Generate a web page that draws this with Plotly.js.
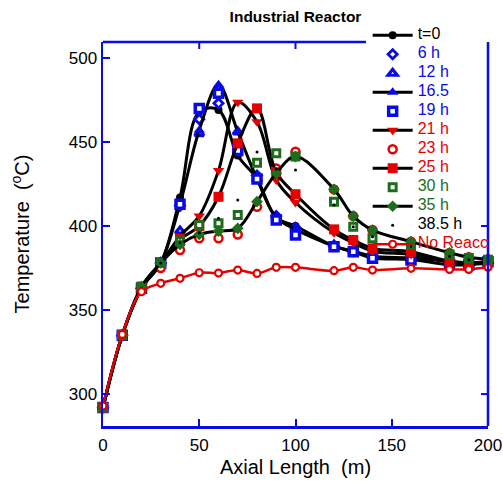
<!DOCTYPE html>
<html>
<head>
<meta charset="utf-8">
<script src="https://cdn.plot.ly/plotly-3.0.1.min.js"></script>
<style>html,body{margin:0;padding:0;background:#fff;}#chart{width:503px;height:495px;}</style>
</head>
<body>
<div id="chart"></div>
<script>
// Axial positions (m)
var axialLength = [0,10,20,30,40,50,60,70,80,90,100,120,130,140,160,180,190,200];
// Temperatures (°C)
var t0    = [292,335,363,378,417,468,469,442,428,405,400,388,385,382,381,379,378,378];
var h6    = [292,335,363,378,412,463.5,473,448,430,406,399,388,385,382,380,378,377,378];
var h12   = [292,335,363,378,397,455,482,456,428,405.5,398.6,388.7,384.7,381.4,380,377.4,377,379];
var h16_5 = [292,335,363,378,413,457,484,456,428,405,398,388,384.5,381,380,377,377,378];
var h19   = [292,335,363,378,413,470,479,445,428,403.6,394.6,387.7,384.7,380.8,379.8,377.4,376.8,378.8];
var h21   = [292,335,363,378,394,406,433,473.6,462,427.4,414,396,390,385,383,378.5,377.5,378.5];
var h23   = [292,335,362,375,385.7,392.7,392.7,395,411.5,434.3,444.2,421.8,405.9,397.6,390.7,384,381.4,380.2];
var h25   = [292,335,363,378,392,400,417.4,449.2,470,432,418.9,398,391.7,386.7,384.7,379,378,379];
var h30   = [292,335,364,378,391,400.6,401.6,406.5,437.7,443.3,441.3,414.5,399.6,392.7,388.7,383,381,380];
var h35   = [292,335,364,378,389,395,397,398.6,414.5,431.4,441.3,421.8,405.9,397.6,390.7,384.1,381.4,380.2];
var h38_5 = [292,335,363,378,390,396,404.6,415.5,444,434,433.3,412.5,399.6,393.6,388,382,380,379];
var noReacc = [292.9,335.5,360.9,365.9,368.9,372.2,372,373.8,371.8,375.4,375.4,373.4,375.4,373.8,374.8,374.2,374.2,375.4];

var seriesNames = ['t=0','6 h','12 h','16.5','19 h','21 h','23 h','25 h','30 h','35 h','38.5 h','No Reacc'];
var xTicks = [0, 50, 100, 150, 200];
var yTicks = [300, 350, 400, 450, 500];

var BLUE = '#0a0ae6', RED = '#e60000', GREEN = '#1c6e1c', BLACK = '#000000';

function nm(text, color) {
  return '<span style="color:' + color + ';font-size:16px">' + text + '</span>';
}
function lineTrace(y, name, color, marker) {
  return {x: axialLength, y: y, name: nm(name, color), mode: 'lines+markers',
    line: {color: BLACK, width: 3, shape: 'spline', smoothing: 1}, marker: marker, cliponaxis: false};
}
function markTrace(y, name, color, marker) {
  return {x: axialLength, y: y, name: nm(name, color), mode: 'markers', marker: marker, cliponaxis: false};
}

var traces = [
  lineTrace(t0, seriesNames[0], BLACK, {symbol: 'circle', size: 8, color: BLACK}),
  markTrace(h6, seriesNames[1], BLUE, {symbol: 'diamond', size: 7, color: 'white', line: {color: BLUE, width: 2.8}}),
  markTrace(h12, seriesNames[2], BLUE, {symbol: 'triangle-up', size: 8, color: 'white', line: {color: BLUE, width: 3.2}}),
  lineTrace(h16_5, seriesNames[3], BLUE, {symbol: 'triangle-up', size: 10, color: BLUE}),
  markTrace(h19, seriesNames[4], BLUE, {symbol: 'square', size: 8, color: 'white', line: {color: BLUE, width: 3.5}}),
  lineTrace(h21, seriesNames[5], RED, {symbol: 'triangle-down', size: 10, color: RED}),
  markTrace(h23, seriesNames[6], RED, {symbol: 'circle', size: 8, color: 'white', line: {color: RED, width: 2.5}}),
  lineTrace(h25, seriesNames[7], RED, {symbol: 'square', size: 10, color: RED}),
  markTrace(h30, seriesNames[8], GREEN, {symbol: 'square', size: 7, color: 'white', line: {color: GREEN, width: 3}}),
  lineTrace(h35, seriesNames[9], GREEN, {symbol: 'diamond', size: 9, color: GREEN}),
  markTrace(h38_5, seriesNames[10], BLACK, {symbol: 'circle', size: 3, color: BLACK}),
  {x: axialLength, y: noReacc, name: nm(seriesNames[11], RED), mode: 'lines+markers', cliponaxis: false,
   line: {color: RED, width: 2.5, shape: 'spline', smoothing: 1},
   marker: {symbol: 'circle', size: 7, color: 'white', line: {color: RED, width: 2.2}}}
];

// Frame pieces: top edge stops where the legend sits, right edge has ticks only below the legend
var legendLeft = 0.683;
var shapes = [
  {type: 'line', xref: 'paper', yref: 'paper', x0: 0, x1: legendLeft, y0: 1, y1: 1, line: {color: BLUE, width: 2.5}},
  {type: 'line', xref: 'paper', yref: 'paper', x0: 1, x1: 1, y0: 0, y1: 1, line: {color: BLUE, width: 2.5}}
];
xTicks.forEach(function (v) {
  if (v > 0 && v <= 100) {
    shapes.push({type: 'line', xref: 'x', x0: v, x1: v, yref: 'paper', ysizemode: 'pixel', yanchor: 1,
      y0: 0, y1: -7, line: {color: BLUE, width: 2}});
  }
});
yTicks.forEach(function (v) {
  if (v <= 400) {
    shapes.push({type: 'line', yref: 'y', y0: v, y1: v, xref: 'paper', xsizemode: 'pixel', xanchor: 1,
      x0: 0, x1: -7, line: {color: BLUE, width: 2}});
  }
});

var FONT = 'Liberation Sans, Arial, sans-serif';
var layout = {
  width: 503, height: 495,
  margin: {l: 103, r: 15, t: 42, b: 69, autoexpand: false},
  paper_bgcolor: 'white', plot_bgcolor: 'white',
  font: {family: FONT, size: 17, color: 'black'},
  showlegend: true,
  title: {text: '<b>Industrial Reactor</b>', font: {family: FONT, size: 15.5, color: 'black'},
          x: 0.5, xref: 'paper', y: 0.966, yanchor: 'middle'},
  xaxis: {
    range: [0, 200], tickvals: xTicks, ticktext: xTicks.map(String),
    showgrid: false, zeroline: false,
    showline: true, linecolor: BLUE, linewidth: 2.5, mirror: false,
    ticks: 'inside', ticklen: 7, tickwidth: 2, tickcolor: BLUE,
    tickfont: {size: 17}, ticklabelstandoff: 2,
    title: {text: 'Axial Length  (m)', font: {size: 20}, standoff: 6}
  },
  yaxis: {
    range: [281, 509.5], tickvals: yTicks, ticktext: yTicks.map(String),
    showgrid: false, zeroline: false,
    showline: true, linecolor: BLUE, linewidth: 2.5, mirror: false,
    ticks: 'inside', ticklen: 7, tickwidth: 2, tickcolor: BLUE,
    tickfont: {size: 17},
    title: {text: 'Temperature  (<sup>o</sup>C)', font: {size: 20}, standoff: 34}
  },
  shapes: shapes,
  legend: {
    x: 0.6874, y: 1.0553, xanchor: 'left', yanchor: 'top',
    bgcolor: 'rgba(0,0,0,0)', borderwidth: 0, font: {size: 10, family: FONT},
    itemwidth: 40, tracegroupgap: 0
  }
};

Plotly.newPlot('chart', traces, layout, {displayModeBar: false, staticPlot: true});
</script>
</body>
</html>
